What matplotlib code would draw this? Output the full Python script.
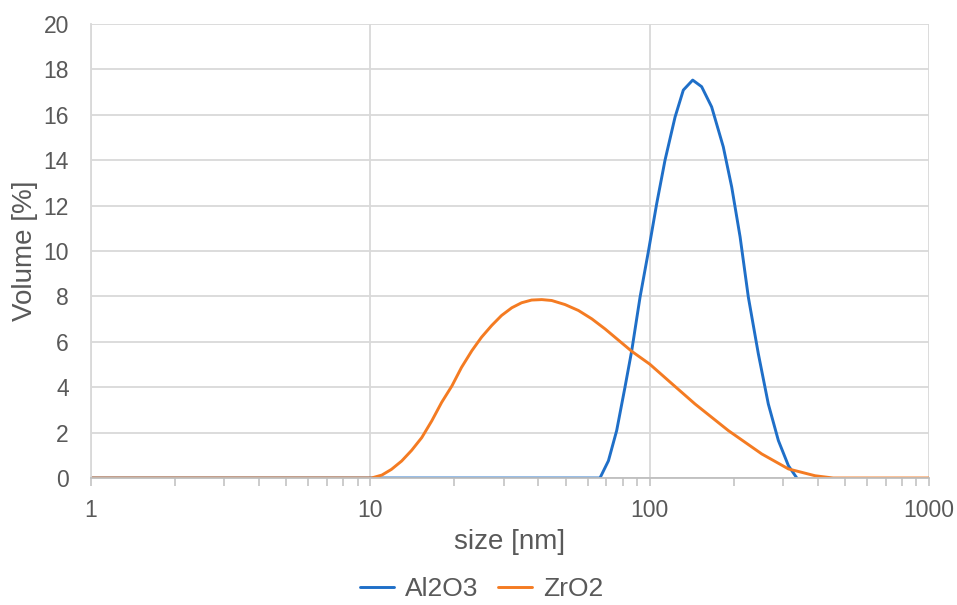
import matplotlib
matplotlib.use("Agg")
import matplotlib.pyplot as plt
from matplotlib.ticker import LogLocator, NullFormatter, FixedLocator

plt.rcParams['font.family'] = ['Liberation Sans', 'DejaVu Sans']

al_size = [1, 10, 66.4, 71.2, 76.2, 81.6, 86.3, 92.4, 99, 106, 113.5, 123.3,
           132, 142.6, 153.5, 166.7, 183.5, 196.7, 210.8, 225.6, 245, 266, 289,
           314, 336.5]
al_vol = [0, 0, 0, 0.76, 2.09, 4.0, 5.62, 7.97, 9.99, 12.09, 14.0, 15.9,
          17.09, 17.53, 17.24, 16.35, 14.59, 12.82, 10.62, 7.97, 5.47, 3.26, 1.65,
          0.54, 0]

zr_size = [1, 10.1, 11.0, 11.9, 12.95, 14.06, 15.28, 16.6, 18.0, 19.6, 21.2,
           23.1, 25.0, 27.2, 29.5, 32.1, 34.8, 37.8, 41.1, 44.6, 49.8, 55.6,
           62.1, 69.2, 86.3, 100, 120, 145.4, 191.3, 252, 314, 391, 454, 1000]
zr_vol = [0, 0, 0.13, 0.38, 0.75, 1.22, 1.78, 2.52, 3.33, 4.06, 4.87,
          5.61, 6.2, 6.72, 7.16, 7.5, 7.72, 7.84, 7.86, 7.82, 7.64, 7.38,
          7.01, 6.57, 5.58, 5.02, 4.16, 3.26, 2.09, 1.06, 0.4, 0.1, 0, 0]

x_ticks = [1, 10, 100, 1000]
x_ticklabels = ['1', '10', '100', '1000']
y_ticks = [0, 2, 4, 6, 8, 10, 12, 14, 16, 18, 20]

fig = plt.figure(figsize=(9.57, 6.05), dpi=100)
ax = fig.add_axes([0.0951, 0.2099, 0.8756, 0.7504])

ax.plot(al_size, al_vol, color='#1f6fc8', lw=2.1, label='Al2O3',
        solid_joinstyle='round', solid_capstyle='round')
ax.plot(zr_size, zr_vol, color='#f47b22', lw=2.1, label='ZrO2',
        solid_joinstyle='round', solid_capstyle='round')

ax.set_xscale('log')
ax.set_xlim(1, 1000)
ax.set_ylim(0, 20)
ax.xaxis.set_major_locator(FixedLocator(x_ticks))
ax.set_xticklabels(x_ticklabels)
ax.xaxis.set_minor_locator(LogLocator(base=10, subs=range(2, 10)))
ax.xaxis.set_minor_formatter(NullFormatter())
ax.set_yticks(y_ticks)

grid_c = '#d9d9d9'
ax.grid(True, which='major', color=grid_c, lw=1.3)
ax.set_axisbelow(True)
for s in ['top', 'right']:
    ax.spines[s].set_visible(False)
ax.spines['left'].set_color(grid_c)
ax.spines['left'].set_linewidth(1.3)
ax.spines['bottom'].set_color('#bfbfbf')
ax.spines['bottom'].set_linewidth(1.3)

txt_c = '#595959'
ax.tick_params(axis='y', length=0, pad=16, labelsize=16.5, labelcolor=txt_c)
ax.tick_params(axis='x', which='major', length=6, width=1.1, color='#bfbfbf', direction='out',
               pad=9, labelsize=16.5, labelcolor=txt_c)
ax.tick_params(axis='x', which='minor', length=6, width=1.1, color='#bfbfbf', direction='out')

ax.set_xlabel('size [nm]', fontsize=20, color=txt_c, labelpad=5)
ax.set_ylabel('Volume [%]', fontsize=20, color=txt_c, labelpad=4)

fig.legend(loc='center', bbox_to_anchor=(0.503, 0.026), ncol=2, frameon=False,
           fontsize=19, handlelength=1.3, columnspacing=0.75, handletextpad=0.4,
           labelcolor=txt_c, borderpad=0.2)

fig.savefig('out.png', dpi=100)
